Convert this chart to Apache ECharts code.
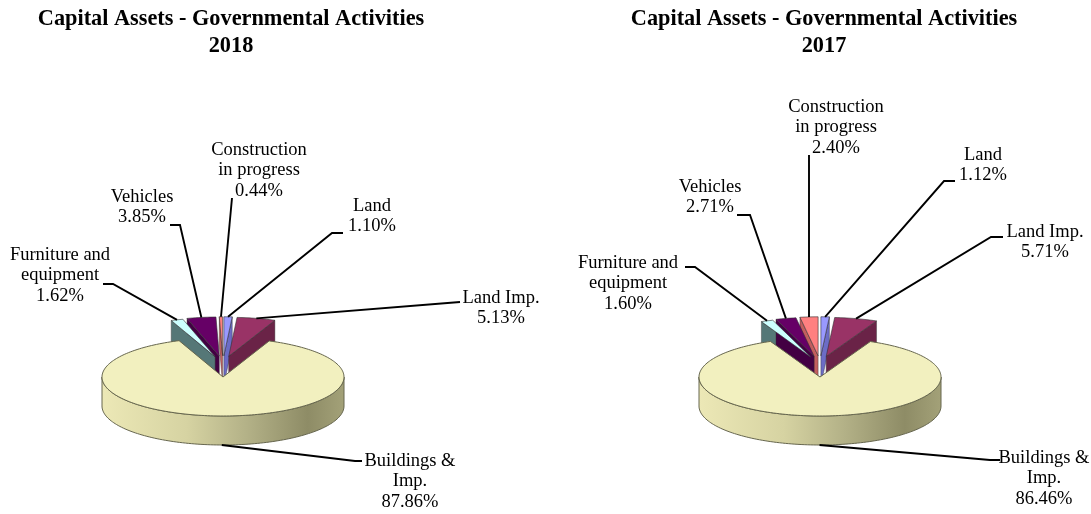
<!DOCTYPE html>
<html><head><meta charset="utf-8">
<script src="https://cdn.jsdelivr.net/npm/echarts@6/dist/echarts.min.js"></script>
<style>html,body{margin:0;padding:0;background:#fff}#c{width:1091px;height:514px}</style>
</head><body><div id="c"></div>
<script>
// ---- data ----
const categories = ['Land', 'Land Imp.', 'Buildings & Imp.', 'Furniture and equipment', 'Vehicles', 'Construction in progress'];
const labelNames = ['Land', 'Land Imp.', 'Buildings &\nImp.', 'Furniture and\nequipment', 'Vehicles', 'Construction\nin progress'];
const values2018 = [1.10, 5.13, 87.86, 1.62, 3.85, 0.44];
const values2017 = [1.12, 5.71, 86.46, 1.60, 2.71, 2.40];
const years = ['2018', '2017'];
const titleText = 'Capital Assets - Governmental Activities';

// ---- styles / layout ----
const topColors = ['#9999FF', '#993366', '#F2F0BF', '#CCFFFF', '#660066', '#FF8080'];
const wallColors = ['#6C6CC6', '#6A2347', '#C8C593', '#557777', '#430043', '#C25E5E'];
const geos = [
  {cx: 223, cy: 377, rx: 121, ry: 39, depth: 29, explode: 25, explodeK: 0.85},
  {cx: 820, cy: 377, rx: 121, ry: 39, depth: 29, explode: 25, explodeK: 0.85}
];
const labelLayouts = [
  [
    {x: 372, y: 206, path: [[343, 233], [332, 233]]},
    {x: 501, y: 298, path: [[460, 302]]},
    {x: 410, y: 461, path: [[362, 461], [355, 461]]},
    {x: 60, y: 255, path: [[103, 284], [113, 284]]},
    {x: 142, y: 197, path: [[170, 225], [180, 225]]},
    {x: 259, y: 150, path: [[232, 198]]}
  ],
  [
    {x: 983, y: 155, path: [[955, 181], [944, 181]]},
    {x: 1045, y: 232, path: [[1003, 237], [991, 237]]},
    {x: 1044, y: 458, path: [[1000, 460], [990, 460]]},
    {x: 628, y: 263, path: [[685, 267], [695, 267]]},
    {x: 710, y: 187, path: [[737, 215], [750, 215]]},
    {x: 836, y: 107, path: [[809, 155]]}
  ]
];
const titleX = [231, 824];
const LABEL_FONT = '18.5px "Liberation Serif", "Times New Roman", serif';
const LABEL_LH = 20.5;

function makeRender(values, geo, layout) {
  const total = values.reduce((a, b) => a + b, 0);
  const maxV = Math.max.apply(null, values);
  const angles = [];
  let acc = 0;
  values.forEach(v => { const s = acc / total * 360; acc += v; angles.push([s, acc / total * 360]); });
  const rad = d => d * Math.PI / 180;

  return function (params, api) {
    const i = params.dataIndex;
    const v = api.value(0);
    const a0 = angles[i][0], a1 = angles[i][1];
    const mid = (a0 + a1) / 2;
    const exploded = v !== maxV;
    const ox = exploded ? geo.explode * Math.sin(rad(mid)) : 0;
    const oy = exploded ? -geo.explode * geo.explodeK * Math.cos(rad(mid)) : 0;
    const P = (a, dz) => [geo.cx + ox + geo.rx * Math.sin(rad(a)), geo.cy + oy - geo.ry * Math.cos(rad(a)) + (dz || 0)];
    const apex = [geo.cx + ox, geo.cy + oy];
    const apexB = [apex[0], apex[1] + geo.depth];
    const arc = (from, to, dz) => {
      const n = Math.max(2, Math.ceil(Math.abs(to - from) / 1.5));
      const pts = [];
      for (let k = 0; k <= n; k++) pts.push(P(from + (to - from) * k / n, dz));
      return pts;
    };
    const zbase = Math.round((1 - Math.cos(rad(mid))) * 20) * 4;
    const stroke = i === 2 ? '#66664E' : 'rgba(50,50,50,0.6)';
    const children = [];

    // radial walls
    if (Math.sin(rad(a0)) < -1e-6) {
      children.push({type: 'polygon', z2: zbase, shape: {points: [apex, P(a0), P(a0, geo.depth), apexB]},
        style: {fill: wallColors[i], stroke: stroke, lineWidth: 0.7}});
    }
    if (Math.sin(rad(a1)) > 1e-6) {
      children.push({type: 'polygon', z2: zbase, shape: {points: [apex, P(a1), P(a1, geo.depth), apexB]},
        style: {fill: wallColors[i], stroke: stroke, lineWidth: 0.7}});
    }
    // outer wall (front half)
    const lo = Math.max(a0, 90), hi = Math.min(a1, 270);
    if (hi > lo) {
      const top = arc(lo, hi, 0);
      const bot = arc(hi, lo, geo.depth);
      const fill = i === 2 ? {
        type: 'linear', x: geo.cx - geo.rx, y: 0, x2: geo.cx + geo.rx, y2: 0, global: true,
        colorStops: [
          {offset: 0, color: '#ECE8B6'}, {offset: 0.35, color: '#D6D3A2'},
          {offset: 0.6, color: '#B3B187'}, {offset: 0.85, color: '#8E8C66'}, {offset: 1, color: '#A3A178'}
        ]
      } : wallColors[i];
      children.push({type: 'polygon', z2: zbase + 1, shape: {points: top.concat(bot)},
        style: {fill: fill, stroke: stroke, lineWidth: 1}});
    }
    // top face
    children.push({type: 'polygon', z2: zbase + 2, shape: {points: [apex].concat(arc(a0, a1, 0))},
      style: {fill: topColors[i], stroke: stroke, lineWidth: 1}});

    // leader line + label
    const lay = layout[i];
    const end = Math.cos(rad(mid)) > 0 ? P(mid) : P(mid, geo.depth);
    children.push({type: 'polyline', z2: 1000, shape: {points: lay.path.concat([end])},
      style: {stroke: '#000', lineWidth: 1.9, fill: null}});
    children.push({type: 'text', z2: 1001, x: lay.x, y: lay.y - LABEL_LH / 2,
      style: {text: labelNames[i] + '\n' + v.toFixed(2) + '%', font: LABEL_FONT, lineHeight: LABEL_LH,
        fill: '#000', align: 'center', textAlign: 'center', verticalAlign: 'top', textVerticalAlign: 'top'}});
    return {type: 'group', children: children};
  };
}

const allValues = [values2018, values2017];
const chart = echarts.init(document.getElementById('c'), null, {renderer: 'canvas'});
chart.setOption({
  animation: false,
  backgroundColor: '#fff',
  graphic: years.map((y, k) => ({
    type: 'text', x: titleX[k], y: 6,
    style: {text: titleText + '\n' + y, font: 'bold 22.3px "Liberation Serif", "Times New Roman", serif',
      lineHeight: 27, fill: '#000', align: 'center', textAlign: 'center', verticalAlign: 'top', textVerticalAlign: 'top'}
  })),
  series: allValues.map((vals, k) => ({
    type: 'custom',
    name: years[k],
    coordinateSystem: 'none',
    silent: true,
    renderItem: makeRender(vals, geos[k], labelLayouts[k]),
    data: vals.map((v, i) => ({name: categories[i], value: [v]}))
  }))
});
</script>
</body></html>
